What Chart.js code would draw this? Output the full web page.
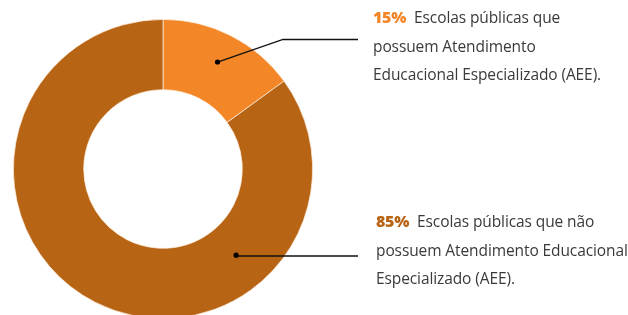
<!DOCTYPE html>
<html>
<head>
    <meta charset="utf-8">
    <title>Escolas públicas com AEE</title>
    <script src="https://cdn.jsdelivr.net/npm/chart.js"></script>
    <style>
        html, body { margin: 0; padding: 0; background: #fff; overflow: hidden; }
        body { width: 628px; height: 315px; position: relative; }
        #wrap { position: absolute; left: 0; top: 0; width: 628px; height: 338px; }
        .label {
            position: absolute;
            font-family: "Open Sans", Lato, sans-serif;
            font-size: 15.5px;
            letter-spacing: -0.1px;
            line-height: 28.5px;
            color: #3a3a3a;
            white-space: nowrap;
        }
        .label b { font-weight: 800; font-size: 16px; margin-right: 8px; letter-spacing: -0.3px; }
    </style>
</head>
<body>
    <div id="wrap"><canvas id="aeeChart"></canvas></div>
    <div class="label" id="lbl0" style="left:373px; top:3px;"></div>
    <div class="label" id="lbl1" style="left:376px; top:207px;"></div>

    <script>
        // dados
        const categories = ['Com AEE', 'Sem AEE'];
        const values = [15, 85];
        const percentLabels = ['15%', '85%'];
        const labelLines = [
            ['Escolas públicas que', 'possuem Atendimento', 'Educacional Especializado (AEE).'],
            ['Escolas públicas que não', 'possuem Atendimento Educacional', 'Especializado (AEE).']
        ];
        const colors = ['#F38627', '#B86415'];

        // escreve os textos dos rótulos
        labelLines.forEach((lines, i) => {
            const el = document.getElementById('lbl' + i);
            el.innerHTML = '<b style="color:' + colors[i] + '">' + percentLabels[i] + '</b>' + lines.join('<br>');
        });

        // linhas de chamada: posição do ponto dentro da fatia + trajeto até o texto
        const callouts = [
            { angleFrac: 0.5, radiusFrac: 0.58, lineY: 39.5, elbowX: 283, endX: 358 },
            { angleFrac: 0.28, radiusFrac: 0.48, lineY: 256, elbowX: null, endX: 358 }
        ];

        const leaderLines = {
            id: 'leaderLines',
            afterDatasetsDraw(chart) {
                const c = chart.ctx;
                const arcs = chart.getDatasetMeta(0).data;
                arcs.forEach((arc, i) => {
                    const p = arc.getProps(['x', 'y', 'startAngle', 'endAngle', 'innerRadius', 'outerRadius'], true);
                    const co = callouts[i];
                    const a = p.startAngle + (p.endAngle - p.startAngle) * co.angleFrac;
                    const r = p.innerRadius + (p.outerRadius - p.innerRadius) * co.radiusFrac;
                    const dx = p.x + Math.cos(a) * r;
                    const dy = p.y + Math.sin(a) * r;
                    c.save();
                    c.strokeStyle = '#111';
                    c.lineWidth = 1.3;
                    c.beginPath();
                    c.moveTo(dx, dy);
                    if (co.elbowX !== null) c.lineTo(co.elbowX, co.lineY);
                    else c.lineTo(dx, co.lineY);
                    c.lineTo(co.endX, co.lineY);
                    c.stroke();
                    c.fillStyle = '#000';
                    c.beginPath();
                    c.arc(dx, dy, 2.6, 0, Math.PI * 2);
                    c.fill();
                    c.restore();
                });
            }
        };

        const ctx = document.getElementById('aeeChart').getContext('2d');
        new Chart(ctx, {
            type: 'doughnut',
            data: {
                labels: categories,
                datasets: [{
                    data: values,
                    backgroundColor: colors,
                    borderColor: 'rgba(255,240,225,0.9)',
                    borderWidth: 0.8
                }]
            },
            options: {
                responsive: true,
                maintainAspectRatio: false,
                animation: false,
                cutout: '53%',
                layout: { padding: { left: 13, top: 19, right: 315, bottom: 19 } },
                plugins: {
                    legend: { display: false },
                    tooltip: { enabled: false }
                }
            },
            plugins: [leaderLines]
        });
    </script>
</body>
</html>
